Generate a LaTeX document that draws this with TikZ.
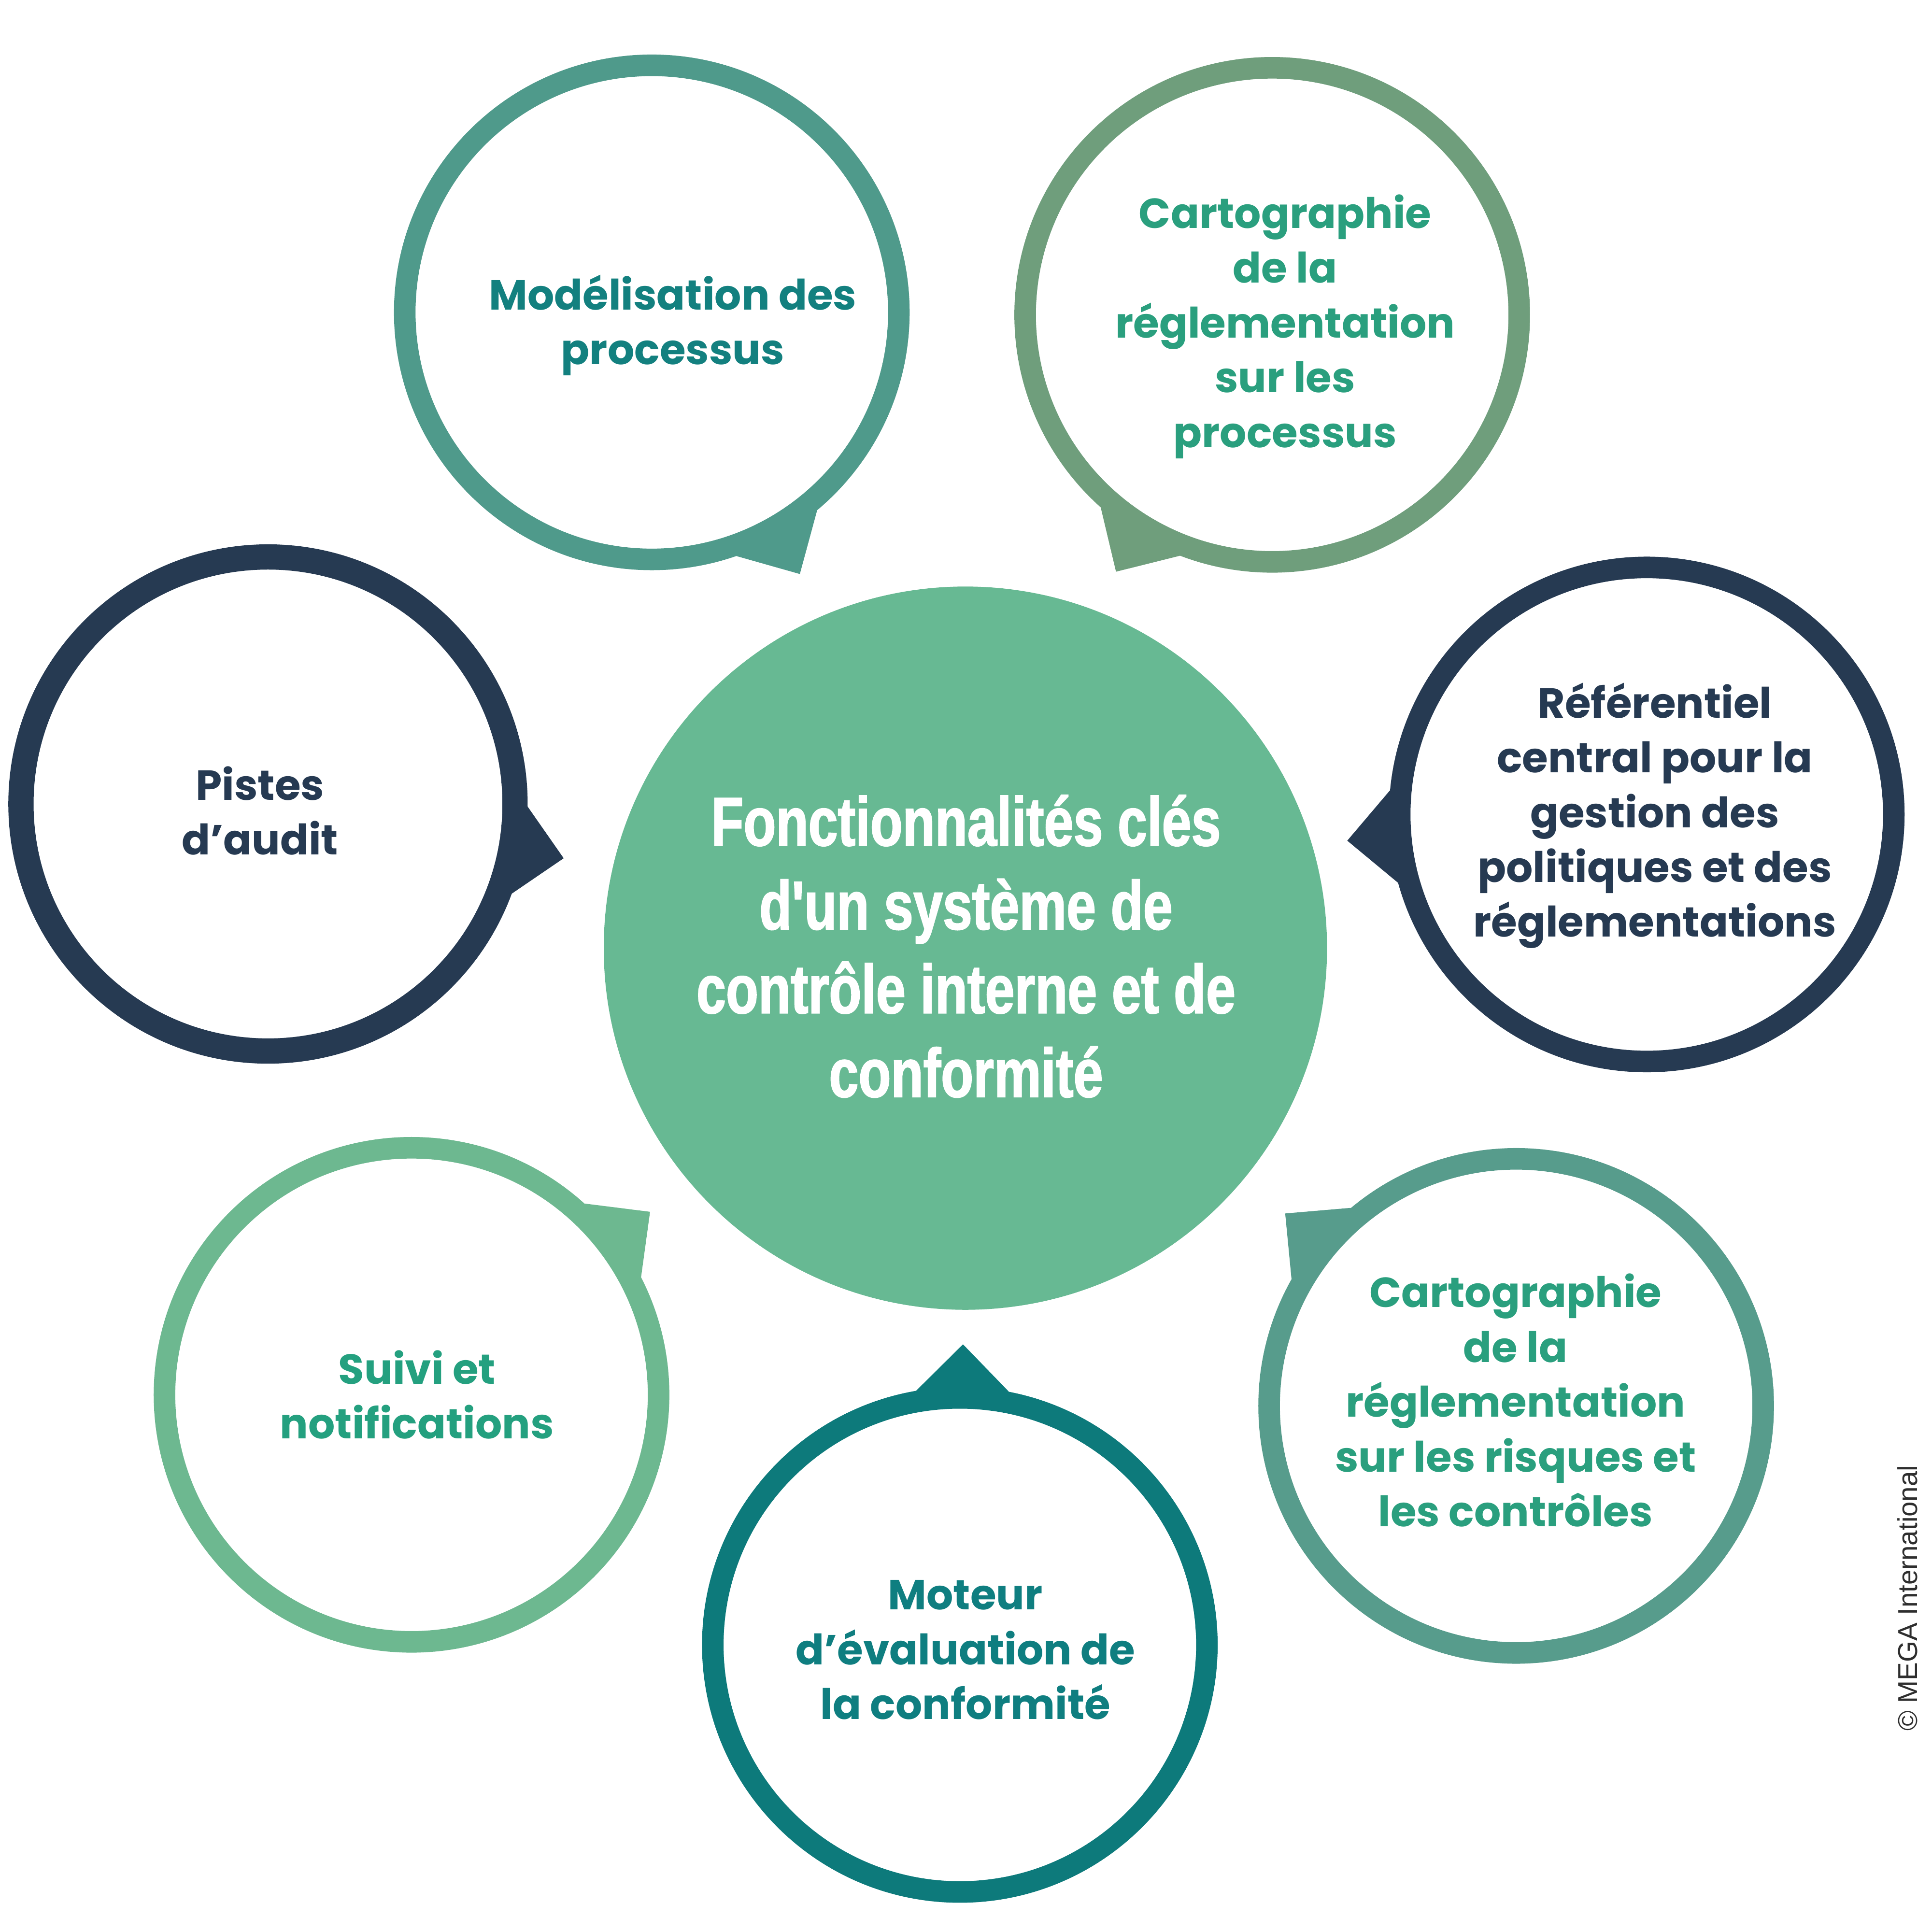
\documentclass[tikz,border=0pt]{standalone}
\usepackage{fontspec}
\newfontfamily\bubfont{Poppins}
\newfontfamily\titlefont[FakeStretch=0.77, BoldFeatures={FakeBold=1.5}]{Liberation Sans}
\newfontfamily\copyfont{Liberation Sans}
\definecolor{navy}{HTML}{263A52}
\definecolor{ringA}{HTML}{4F9A8B}
\definecolor{ringB}{HTML}{6F9E7C}
\definecolor{ringC}{HTML}{6DB890}
\definecolor{ringD}{HTML}{0D7A7B}
\definecolor{ringE}{HTML}{579C8C}
\definecolor{txtA}{HTML}{13807F}
\definecolor{txtB}{HTML}{2A9F7E}
\definecolor{txtC}{HTML}{24A07F}
\definecolor{txtD}{HTML}{0F7E80}
\definecolor{centergreen}{HTML}{67B993}
\definecolor{copygray}{HTML}{2E2E2E}
\newcommand\mybubble[6]{%
  \coordinate (#1) at (#2,#3);
  \begin{scope}[shift={(#2,#3)}]
    \fill[#5] (#4-10.3:209.5) -- (#4:244) -- (#4+10.3:209.5) -- (#4+10.3:198) -- (#4-10.3:198) -- cycle;
    \draw[#5, line width=#6] (0,0) circle[radius=200.5];
  \end{scope}}
\begin{document}
\begin{tikzpicture}[x=0.1mm,y=-0.1mm,
  bubtext/.style={align=center, inner sep=0pt, font=\bubfont\bfseries\fontsize{9.7}{12.65}\selectfont},
  titletext/.style={align=center, inner sep=0pt, text=white, font=\titlefont\bfseries\fontsize{15.9}{19.35}\selectfont},
  copytext/.style={rotate=90, inner sep=0pt, text=copygray, font=\copyfont\fontsize{6.3}{7}\selectfont}]
\useasboundingbox (0,0) rectangle (1568,1568);
\fill[white] (0,0) rectangle (1568,1568);
% center
\coordinate (cc) at (783.5,769.5);
\fill[centergreen] (cc) circle[radius=293.5];
\node[titletext] (title) at (784,768) {Fonctionnalités clés\\d'un système de\\contrôle interne et de\\conformité};
% bubbles
\mybubble{bTL}{529}{253.5}{60.5}{ringA}{1.75mm}
\mybubble{bTR}{1032.5}{255.5}{121.3}{ringB}{1.75mm}
\mybubble{bL}{217.5}{652.5}{10.4}{navy}{2.05mm}
\mybubble{bR}{1336.5}{661}{175}{navy}{1.75mm}
\mybubble{bBL}{334}{1132}{-37.5}{ringC}{1.75mm}
\mybubble{bBM}{779}{1335}{-89.4}{ringD}{1.75mm}
\mybubble{bBR}{1230.5}{1141}{-140.2}{ringE}{1.75mm}
% texts
\node[bubtext, text=txtA] (tTL) at (546,264) {Modélisation des\\processus};
\node[bubtext, text=txtB] (tTR) at (1043,265) {Cartographie\\de la\\réglementation\\sur les\\processus};
\node[bubtext, text=navy] (tL) at (211,658) {Pistes\\d’audit};
\node[bubtext, text=navy] (tR) at (1343,662) {Référentiel\\central pour la\\gestion des\\politiques et des\\réglementations};
\node[bubtext, text=txtC] (tBL) at (338.5,1132) {Suivi et\\notifications};
\node[bubtext, text=txtD] (tBM) at (783.5,1339) {Moteur\\d’évaluation de\\la conformité};
\node[bubtext, text=txtB] (tBR) at (1230,1136.5) {Cartographie\\de la\\réglementation\\sur les risques et\\les contrôles};
\node[copytext] (copy) at (1548,1297) {© MEGA International};
\end{tikzpicture}
\end{document}
